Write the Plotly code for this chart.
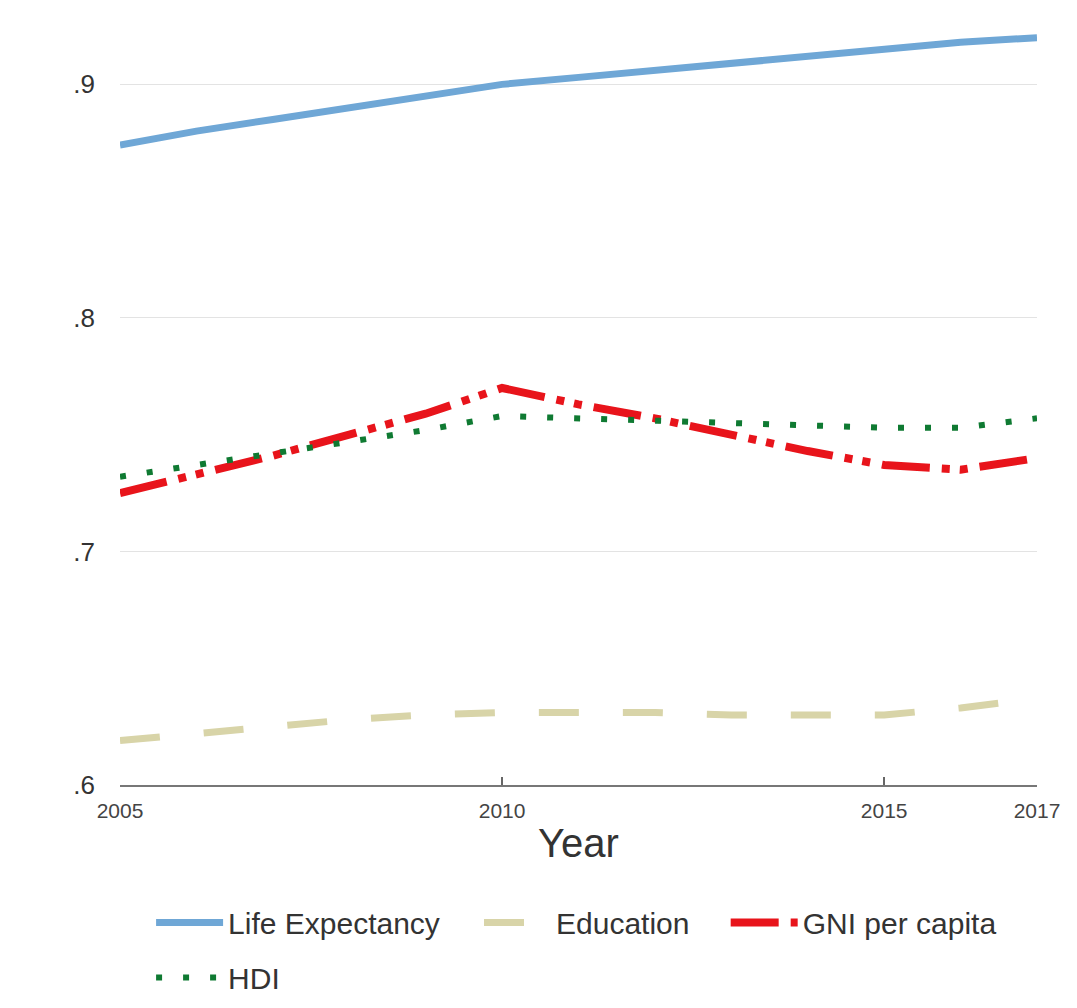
import plotly.graph_objects as go

years = [2005, 2006, 2007, 2008, 2009, 2010, 2011, 2012, 2013, 2014, 2015, 2016, 2017]
life_expectancy = [0.874, 0.880, 0.885, 0.890, 0.895, 0.900, 0.903, 0.906, 0.909, 0.912, 0.915, 0.918, 0.920]
education = [0.619, 0.622, 0.625, 0.628, 0.630, 0.631, 0.631, 0.631, 0.630, 0.630, 0.630, 0.633, 0.637]
gni_per_capita = [0.725, 0.733, 0.741, 0.750, 0.759, 0.770, 0.763, 0.757, 0.750, 0.743, 0.737, 0.735, 0.740]
hdi = [0.732, 0.737, 0.742, 0.747, 0.752, 0.758, 0.757, 0.756, 0.755, 0.754, 0.753, 0.753, 0.757]

x_ticks = [2005, 2010, 2015, 2017]
x_ticktext = ["2005", "2010", "2015", "2017"]
y_ticks = [0.6, 0.7, 0.8, 0.9]
y_ticktext = [".6", ".7", ".8", ".9"]

FONT = "Liberation Sans, Arial, sans-serif"

fig = go.Figure()
fig.add_trace(go.Scatter(x=years, y=life_expectancy, mode="lines", name="Life Expectancy",
                         line=dict(color="#6fa7d6", width=7), legend="legend"))
fig.add_trace(go.Scatter(x=years, y=education, mode="lines", name="Education",
                         line=dict(color="#d8d4a8", width=7, dash="40px,44px"), legend="legend2"))
fig.add_trace(go.Scatter(x=years, y=gni_per_capita, mode="lines", name="GNI per capita",
                         line=dict(color="#e8141b", width=8, dash="48px,12px,8px,10px,8px,12px"), legend="legend3"))
fig.add_trace(go.Scatter(x=years, y=hdi, mode="lines", name="HDI",
                         line=dict(color="#0f7a32", width=6, dash="6px,21px"), legend="legend4"))

leg_common = dict(orientation="h", xanchor="left", yanchor="middle", itemwidth=67,
                  font=dict(family=FONT, size=30, color="#333333"), bgcolor="rgba(0,0,0,0)")

fig.update_layout(
    width=1077, height=1008,
    margin=dict(l=112, r=48, t=18, b=229),
    paper_bgcolor="white", plot_bgcolor="white",
    font=dict(family=FONT, color="#333333"),
    showlegend=True,
    legend=dict(x=0.0339, y=-0.1813, **leg_common),
    legend2=dict(x=0.3915, y=-0.1813, **leg_common),
    legend3=dict(x=0.6605, y=-0.1813, **leg_common),
    legend4=dict(x=0.0339, y=-0.2536, **leg_common),
    xaxis=dict(
        range=[2005, 2017], tickvals=x_ticks, ticktext=x_ticktext,
        showgrid=False, zeroline=False,
        showline=True, linecolor="#777777", linewidth=2,
        ticks="inside", ticklen=8, tickwidth=2, tickcolor="#666666",
        tickfont=dict(family=FONT, size=21, color="#444444"),
        ticklabelstandoff=6,
        title=dict(text="Year", font=dict(family=FONT, size=40, color="#333333"), standoff=8),
    ),
    yaxis=dict(
        range=[0.6, 0.925], tickvals=y_ticks, ticktext=y_ticktext,
        showgrid=True, gridcolor="#e3e3e3", gridwidth=1,
        zeroline=False, showline=False, ticks="",
        tickfont=dict(family=FONT, size=26, color="#333333"),
        ticklabelstandoff=24,
    ),
)

fig.write_html("out.html")
